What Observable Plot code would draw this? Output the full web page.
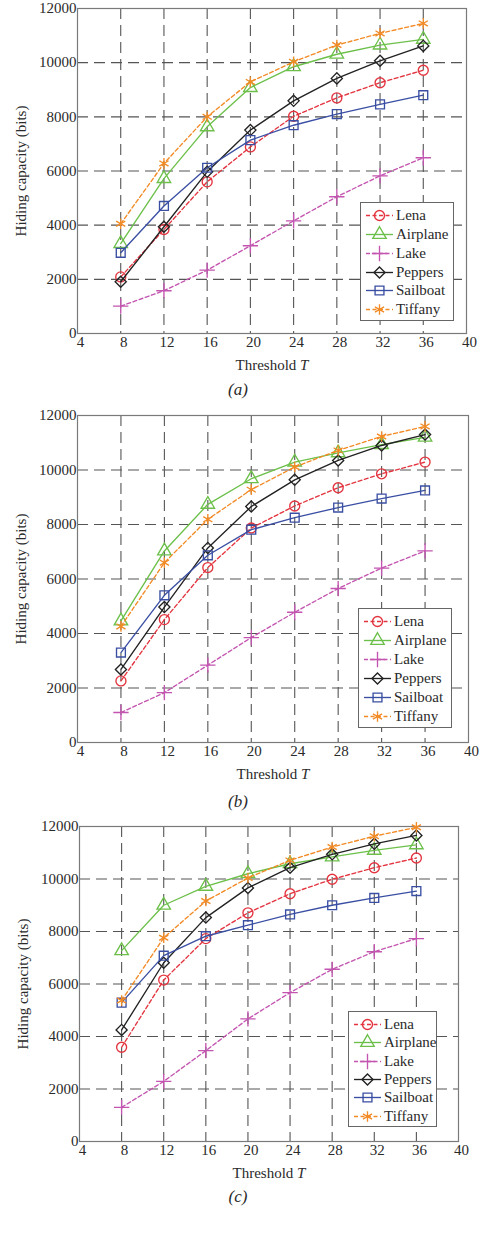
<!DOCTYPE html>
<html>
<head>
<meta charset="utf-8">
<script src="https://cdn.jsdelivr.net/npm/d3@7"></script>
<script src="https://cdn.jsdelivr.net/npm/@observablehq/plot@0.6"></script>
<style>
  body { margin: 0; background: #fff; width: 481px; height: 1243px; position: relative; overflow: hidden;
         font-family: "Liberation Serif", "DejaVu Serif", serif; }
  .panel { position: absolute; left: 0; width: 481px; }
  .caption { position: absolute; left: 0; width: 476px; text-align: center; font-style: italic;
             font-size: 17px; color: #2a2a2a; line-height: 20px; }
  .legend { position: absolute; background: #fff; border: 1px solid #666; box-sizing: border-box; }
  .legend .row { position: absolute; left: 0; height: 19px; display: flex; align-items: center; }
  .legend .row span { font-size: 15px; color: #2a2a2a; margin-left: 2px; }
</style>
</head>
<body>
<script>
// Threshold values on the x axis and the axis tick values
const thresholds = [8, 12, 16, 20, 24, 28, 32, 36];
const xTicks = [4, 8, 12, 16, 20, 24, 28, 32, 36, 40];
const yTicks = [0, 2000, 4000, 6000, 8000, 10000, 12000];
const gridXTicks = [8, 12, 16, 20, 24, 28, 32, 36];
const gridYTicks = [2000, 4000, 6000, 8000, 10000];

// Test images, one line per image
const seriesNames = ["Lena", "Airplane", "Lake", "Peppers", "Sailboat", "Tiffany"];
const seriesColors = ["#e3343f", "#6cc04a", "#c354b0", "#222222", "#3a4fa3", "#f28a25"];
const seriesSymbols = ["circle", "triangle", "plus", "diamond2", "square", "asterisk"];
const seriesDashes = ["4,2.5", null, "4,2.5", null, null, "4,2.5"];

// Hiding capacity (bits), panel (a)
const lenaA     = [2090, 3840, 5600, 6890, 8020, 8700, 9260, 9720];
const airplaneA = [3320, 5720, 7630, 9080, 9850, 10310, 10650, 10860];
const lakeA     = [1010, 1580, 2340, 3240, 4160, 5050, 5820, 6490];
const peppersA  = [1910, 3940, 5970, 7510, 8590, 9420, 10070, 10620];
const sailboatA = [2980, 4710, 6120, 7140, 7690, 8100, 8460, 8800];
const tiffanyA  = [4050, 6280, 8000, 9290, 10030, 10650, 11080, 11450];

// Hiding capacity (bits), panel (b)
const lenaB     = [2260, 4510, 6420, 7870, 8680, 9350, 9860, 10290];
const airplaneB = [4460, 7030, 8740, 9680, 10290, 10630, 10930, 11200];
const lakeB     = [1100, 1830, 2840, 3850, 4780, 5650, 6400, 7030];
const peppersB  = [2680, 4970, 7140, 8660, 9640, 10350, 10900, 11300];
const sailboatB = [3300, 5400, 6870, 7810, 8250, 8620, 8950, 9250];
const tiffanyB  = [4260, 6600, 8190, 9280, 10110, 10720, 11230, 11600];

// Hiding capacity (bits), panel (c)
const lenaC     = [3590, 6150, 7730, 8710, 9440, 9990, 10430, 10800];
const airplaneC = [7270, 9000, 9720, 10200, 10580, 10840, 11090, 11300];
const lakeC     = [1300, 2290, 3460, 4670, 5670, 6560, 7230, 7730];
const peppersC  = [4250, 6810, 8530, 9660, 10430, 10940, 11340, 11660];
const sailboatC = [5290, 7080, 7820, 8240, 8650, 9000, 9280, 9540];
const tiffanyC  = [5370, 7760, 9160, 10040, 10710, 11220, 11630, 11970];

const panels = [
  { caption: "(a)", series: [lenaA, airplaneA, lakeA, peppersA, sailboatA, tiffanyA],
    frameTop: 8, frameBottom: 333, left: 77, right: 466,
    legend: { x: 360, y: 202, w: 94, h: 119 }, captionY: 380 },
  { caption: "(b)", series: [lenaB, airplaneB, lakeB, peppersB, sailboatB, tiffanyB],
    frameTop: 415, frameBottom: 742, left: 77, right: 468,
    legend: { x: 358, y: 608, w: 94, h: 120 }, captionY: 792 },
  { caption: "(c)", series: [lenaC, airplaneC, lakeC, peppersC, sailboatC, tiffanyC],
    frameTop: 826, frameBottom: 1141, left: 79, right: 458,
    legend: { x: 348, y: 1011, w: 89, h: 116 }, captionY: 1187 }
];

const marginTop = 10, marginBottom = 50, W = 481;
const markerR = 5;

function rowsFor(series) {
  return series.flatMap((values, i) =>
    thresholds.map((t, j) => ({ image: seriesNames[i], T: t, bits: values[j] })));
}

function drawPanel(p) {
  const rows = rowsFor(p.series);
  const height = (p.frameBottom - p.frameTop) + marginTop + marginBottom;
  const gridStyle = { stroke: "#555", strokeOpacity: 1, strokeWidth: 1.1, strokeDasharray: "11,6" };

  const marks = [
    Plot.gridX(gridXTicks, gridStyle),
    Plot.gridY(gridYTicks, gridStyle),
    Plot.frame({ stroke: "#7a7a7a", strokeWidth: 1.2 }),
    Plot.axisX(xTicks, { tickSize: 0, tickPadding: 3, dx: 3, tickFormat: d => String(d),
                         label: "Threshold T", labelAnchor: "center", labelOffset: 36, labelArrow: "none" }),
    Plot.axisY(yTicks, { tickSize: 0, tickPadding: 1, tickFormat: d => String(d),
                         label: "Hiding capacity (bits)", labelAnchor: "center", labelOffset: 62, labelArrow: "none" })
  ];
  seriesNames.forEach((name, i) => {
    const data = rows.filter(d => d.image === name);
    marks.push(Plot.line(data, {
      x: "T", y: "bits", stroke: seriesColors[i], strokeWidth: 1.35,
      strokeDasharray: seriesDashes[i] ?? undefined
    }));
    marks.push(Plot.dot(data, {
      x: "T", y: "bits", symbol: seriesSymbols[i], r: markerR,
      stroke: seriesColors[i], fill: "none", strokeWidth: 1.35
    }));
  });

  const chart = Plot.plot({
    width: W, height,
    marginTop, marginBottom, marginLeft: p.left, marginRight: W - p.right,
    style: { fontFamily: "'Liberation Serif', serif", fontSize: "15px", color: "#2a2a2a", background: "transparent" },
    x: { domain: [4, 40] },
    y: { domain: [0, 12000] },
    marks
  });

  // italic T in the x axis title
  d3.select(chart).selectAll("text").each(function () {
    if (this.textContent === "Threshold T") {
      this.textContent = "Threshold ";
      d3.select(this).append("tspan").attr("font-style", "italic").text("T");
    }
  });

  const wrap = document.createElement("div");
  wrap.className = "panel";
  wrap.style.top = (p.frameTop - marginTop) + "px";
  wrap.appendChild(chart);
  document.body.appendChild(wrap);

  // legend box
  const lg = document.createElement("div");
  lg.className = "legend";
  Object.assign(lg.style, { left: p.legend.x + "px", top: p.legend.y + "px",
                             width: p.legend.w + "px", height: p.legend.h + "px" });
  const step = (p.legend.h - 6) / seriesNames.length;
  seriesNames.forEach((name, i) => {
    const row = document.createElement("div");
    row.className = "row";
    row.style.top = (3 + i * step) + "px";
    const sw = d3.create("svg").attr("width", 33).attr("height", 19);
    sw.append("line").attr("x1", 5).attr("x2", 32).attr("y1", 9.5).attr("y2", 9.5)
      .attr("stroke", seriesColors[i]).attr("stroke-width", 1.35)
      .attr("stroke-dasharray", seriesDashes[i]);
    const symType = { circle: d3.symbolCircle, triangle: d3.symbolTriangle, plus: d3.symbolPlus,
                      diamond2: d3.symbolDiamond2, square: d3.symbolSquare, asterisk: d3.symbolAsterisk }[seriesSymbols[i]];
    sw.append("path").attr("transform", "translate(18.5,9.5)")
      .attr("d", d3.symbol(symType, Math.PI * markerR * markerR)())
      .attr("fill", "none").attr("stroke", seriesColors[i]).attr("stroke-width", 1.35);
    row.appendChild(sw.node());
    const label = document.createElement("span");
    label.textContent = name;
    row.appendChild(label);
    lg.appendChild(row);
  });
  document.body.appendChild(lg);

  const cap = document.createElement("div");
  cap.className = "caption";
  cap.style.top = p.captionY + "px";
  cap.textContent = p.caption;
  document.body.appendChild(cap);
}

panels.forEach(drawPanel);
</script>
</body>
</html>
